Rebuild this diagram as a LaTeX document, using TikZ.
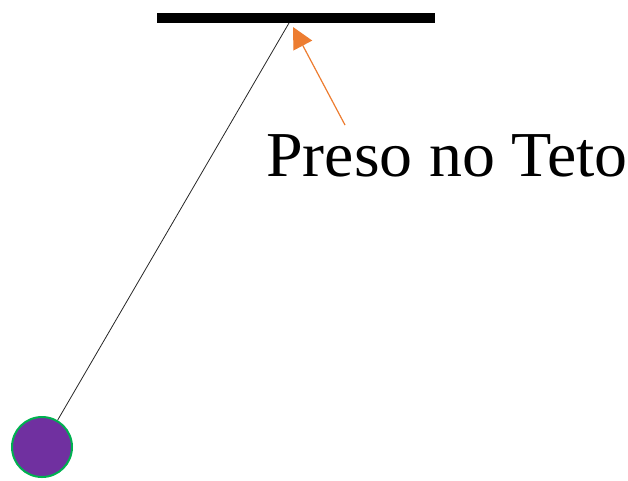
\documentclass[tikz,border=0pt]{standalone}
\usepackage{fontspec}
\setmainfont{Liberation Serif}
\usepackage{tikz}
\usetikzlibrary{positioning,arrows.meta}
\usepackage{xcolor}

\definecolor{bobfill}{HTML}{7030A0}
\definecolor{bobedge}{HTML}{00B050}
\definecolor{pointorange}{HTML}{ED7D31}

\begin{document}
\begin{tikzpicture}[
    x=1pt, y=-1pt,
    beam/.style={
        fill=black,
        inner sep=0pt,
        minimum width=278pt,
        minimum height=10pt
    },
    bobball/.style={
        circle,
        draw=bobedge,
        fill=bobfill,
        line width=2pt,
        inner sep=0pt,
        minimum size=60pt
    },
    tag/.style={
        anchor=base west,
        inner sep=0pt,
        xscale=1.03,
        font=\fontsize{64}{72}\selectfont
    },
    rope/.style={line width=0.8pt, black!85},
    pointer/.style={-{Triangle[width=21pt,length=21pt]}, draw=pointorange, fill=pointorange, line width=1.2pt}
]
\useasboundingbox (0,0) rectangle (628,480);

\node[beam] (ceiling) at (296,18) {};
\coordinate (pivot) at (289,23);
\node[bobball] (bob) at (42,447) {};
\node[tag] (caption) at (266,176) {Preso no Teto};
\coordinate (tail) at (345,125);

\draw[rope] (pivot) -- (bob);
\draw[pointer] (tail) -- (293,27);

\end{tikzpicture}
\end{document}
